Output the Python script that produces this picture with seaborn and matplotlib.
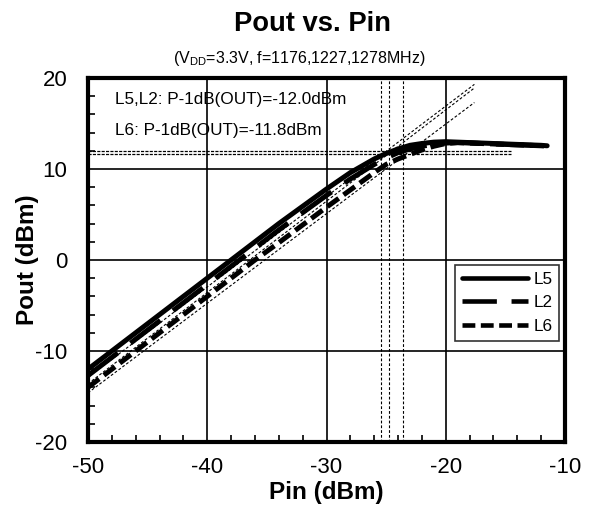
import matplotlib
matplotlib.use("Agg")
import matplotlib.pyplot as plt
import seaborn as sns
import numpy as np
import pandas as pd
from matplotlib.ticker import MultipleLocator
from matplotlib.lines import Line2D

# ---- data ----
pin = [-50, -48, -46, -44, -42, -40, -38, -36, -34, -32, -30, -28, -26, -25,
       -24, -23, -22, -21, -20, -19, -18, -16, -14, -12, -11.5]
pout_L5 = [-12.0, -10.0, -8.0, -6.0, -4.0, -2.0, 0.0, 2.0, 4.0, 5.9, 7.8, 9.6, 11.1, 11.7,
           12.2, 12.6, 12.8, 12.95, 13.0, 12.95, 12.9, 12.8, 12.7, 12.6, 12.55]
pout_L2 = [-12.7, -10.7, -8.7, -6.7, -4.7, -2.7, -0.7, 1.3, 3.3, 5.2, 7.1, 8.9, 10.5, 11.2,
           11.8, 12.2, 12.5, 12.7, 12.85, 12.9, 12.85, 12.75, 12.65, 12.55, 12.5]
pout_L6 = [-14.0, -12.0, -10.0, -8.0, -6.0, -4.0, -2.0, 0.0, 1.9, 3.85, 5.8, 7.7, 9.6, 10.5,
           11.1, 11.6, 12.1, 12.5, 12.8, 12.9, 12.85, 12.75, 12.65, 12.55, 12.5]
series_names = ["L5", "L2", "L6"]

# -1 dB extrapolation lines (start/end points)
ref_pin = [-50, -17.6]
ref_L5 = [-12.9, 19.3]
ref_L2 = [-13.6, 18.9]
ref_L6 = [-14.6, 17.3]

# P-1dB markers
p1db_out = [12.0, 11.7]
p1db_out_range = [-50, -14.5]
p1db_in = [-25.4, -24.8, -23.6]

title = "Pout vs. Pin"
subtitle = r"(V$_{\mathrm{DD}}$=3.3V, f=1176,1227,1278MHz)"
note1 = "L5,L2: P-1dB(OUT)=-12.0dBm"
note2 = "L6: P-1dB(OUT)=-11.8dBm"
xlabel = "Pin (dBm)"
ylabel = "Pout (dBm)"

# ---- style ----
sns.set_style("white")
plt.rcParams["font.family"] = ["Liberation Sans", "DejaVu Sans"]
plt.rcParams["mathtext.fontset"] = "custom"
plt.rcParams["mathtext.rm"] = "Liberation Sans"
plt.rcParams["mathtext.it"] = "Liberation Sans:italic"
plt.rcParams["mathtext.bf"] = "Liberation Sans:bold"
plt.rcParams["axes.unicode_minus"] = False
plt.rcParams["text.color"] = "black"
plt.rcParams["axes.labelcolor"] = "black"
plt.rcParams["xtick.color"] = "black"
plt.rcParams["ytick.color"] = "black"

fig = plt.figure(figsize=(5.89, 5.13), dpi=100)
ax = fig.add_axes([0.1494, 0.1384, 0.8099, 0.7096])

df = pd.DataFrame({"pin": pin, "L5": pout_L5, "L2": pout_L2, "L6": pout_L6})

# thin reference lines
thin = dict(color="black", lw=0.8, linestyle=(0, (2.5, 1.8)), zorder=3)
for ry in (ref_L5, ref_L2, ref_L6):
    sns.lineplot(x=ref_pin, y=ry, ax=ax, **thin)
for v in p1db_in:
    ax.axvline(v, **thin)
for h in p1db_out:
    sns.lineplot(x=p1db_out_range, y=[h, h], ax=ax, color="black", lw=0.9,
                 linestyle=(0, (2.5, 1.0)), zorder=3)

styles = {
    "L5": "-",
    "L2": (0, (7.5, 3.2)),
    "L6": (0, (2.8, 1.2)),
}
handles = []
for name in series_names:
    sns.lineplot(data=df, x="pin", y=name, ax=ax, color="black", lw=3.6,
                 linestyle=styles[name], zorder=4)
    handles.append(Line2D([], [], color="black", lw=3.3, linestyle=styles[name]))

ax.set_xlim(-50, -10)
ax.set_ylim(-20, 20)
ax.xaxis.set_major_locator(MultipleLocator(10))
ax.yaxis.set_major_locator(MultipleLocator(10))
ax.xaxis.set_minor_locator(MultipleLocator(2))
ax.yaxis.set_minor_locator(MultipleLocator(2))
ax.grid(True, which="major", color="black", lw=1.2)
ax.tick_params(which="both", direction="in", bottom=True, left=True, top=False, right=False)
ax.tick_params(which="major", length=0, labelsize=16, pad=11)
ax.tick_params(which="minor", length=5, width=1.2, color="black")
ax.tick_params(axis="y", which="major", pad=15)
for sp in ax.spines.values():
    sp.set_linewidth(3.0)
    sp.set_color("black")
    sp.set_zorder(6)

ax.set_xlabel(xlabel, fontsize=17.5, fontweight="bold", labelpad=2)
ax.set_ylabel(ylabel, fontsize=17.5, fontweight="bold", labelpad=-3)

ax.text(-47.7, 17.6, note1, fontsize=12.3, ha="left", va="center", zorder=5)
ax.text(-47.7, 14.2, note2, fontsize=12.3, ha="left", va="center", zorder=5)

leg = ax.legend(handles, series_names, loc="upper left", bbox_to_anchor=(0.769, 0.486),
                fontsize=12.3, frameon=True, fancybox=False, edgecolor="black",
                handlelength=3.9, handletextpad=0.3, labelspacing=0.5,
                borderpad=0.4, borderaxespad=0)
leg.get_frame().set_linewidth(1.2)
leg.set_zorder(7)

fig.text(0.53, 1 - 24 / 513, title, fontsize=19.7, fontweight="bold", ha="center", va="center")
fig.text(0.509, 1 - 59 / 513, subtitle, fontsize=11.5, ha="center", va="center")

fig.savefig("out.png", dpi=100)
